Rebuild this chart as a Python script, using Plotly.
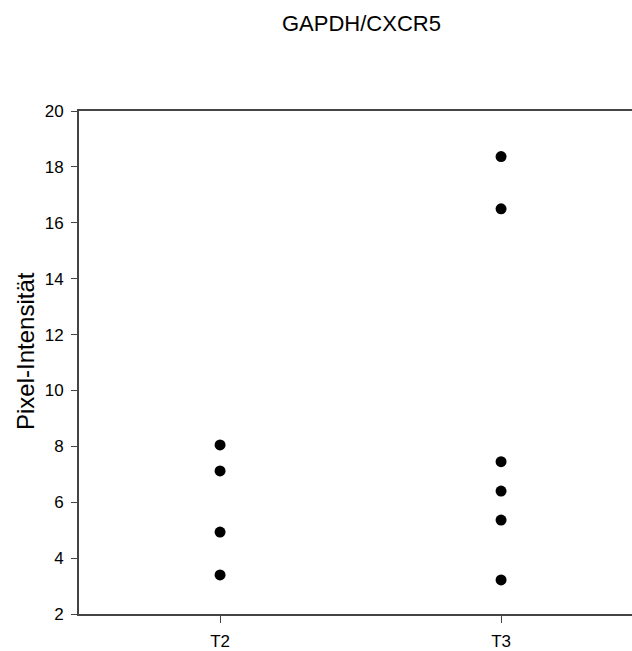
import plotly.graph_objects as go

categories = ["T2", "T3"]
t2_values = [8.05, 7.12, 4.93, 3.40]
t3_values = [18.37, 16.50, 7.45, 6.40, 5.36, 3.22]
title_text = "GAPDH/CXCR5"
y_label = "Pixel-Intensität"
y_ticks = [2, 4, 6, 8, 10, 12, 14, 16, 18, 20]

fig = go.Figure()
for cat, vals in zip(categories, [t2_values, t3_values]):
    fig.add_trace(go.Scatter(
        x=[cat] * len(vals), y=vals, mode="markers",
        marker=dict(color="black", size=11, symbol="circle"),
        showlegend=False, cliponaxis=False,
    ))

axis_color = "#444444"
font_family = "Liberation Sans, Arial, sans-serif"

fig.update_layout(
    width=632, height=651,
    margin=dict(l=79, r=0, t=111, b=37),
    plot_bgcolor="white", paper_bgcolor="white",
    font=dict(family=font_family, color="black", size=17),
    xaxis=dict(
        type="category", categoryorder="array", categoryarray=categories,
        range=[-0.502, 1.466],
        showline=True, linecolor=axis_color, linewidth=2, mirror=True,
        ticks="outside", ticklen=7, tickcolor=axis_color, tickwidth=1,
        showgrid=False, zeroline=False,
        tickfont=dict(size=17, color="black"),
        ticklabelstandoff=4,
    ),
    yaxis=dict(
        range=[2, 20], tickvals=y_ticks,
        showline=True, linecolor=axis_color, linewidth=2,
        ticks="outside", ticklen=6, tickcolor=axis_color, tickwidth=1,
        showgrid=False, zeroline=False,
        tickfont=dict(size=17, color="black"),
        ticklabelstandoff=4,
    ),
    annotations=[
        dict(text=title_text, xref="paper", yref="paper",
             x=(361 - 79) / 553, y=(614 - 24) / 503,
             xanchor="center", yanchor="middle", showarrow=False,
             font=dict(size=22, color="black", family=font_family)),
        dict(text=y_label, xref="paper", yref="paper",
             x=-(79 - 25) / 553, y=(614 - 351) / 503,
             xanchor="center", yanchor="middle", showarrow=False,
             textangle=-90,
             font=dict(size=24, color="black", family=font_family)),
    ],
)

fig.write_html(
    "out.html",
    config={"displayModeBar": False, "staticPlot": True},
    post_script="document.body.style.margin='0';document.body.style.overflow='hidden';",
)
